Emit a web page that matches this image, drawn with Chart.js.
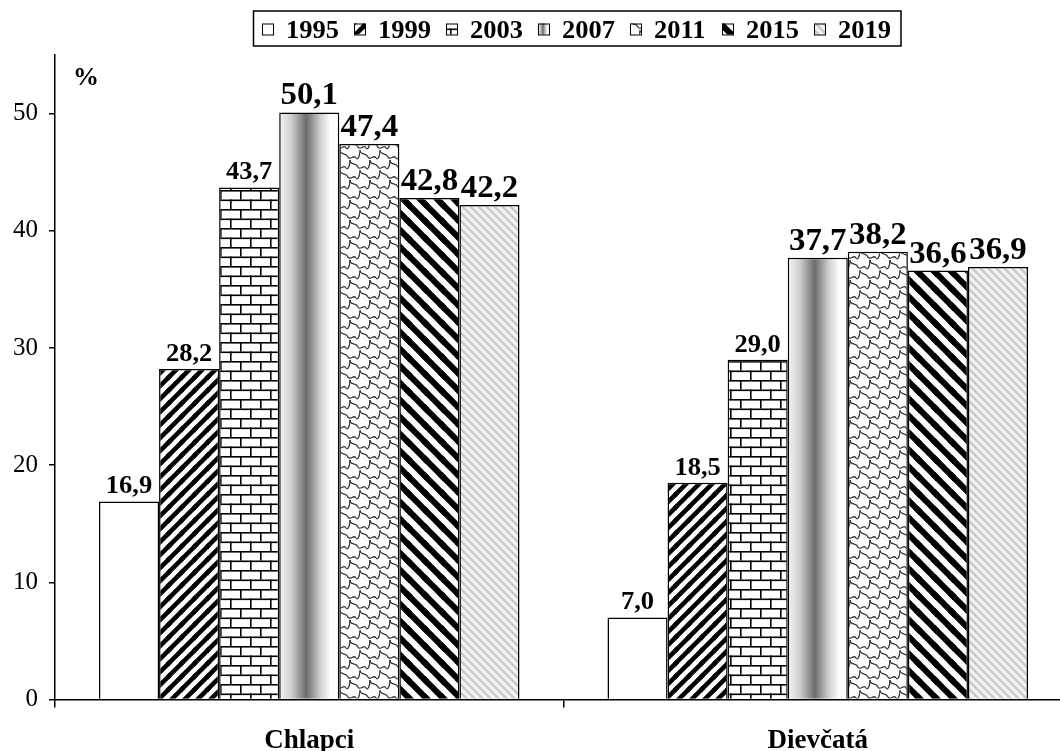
<!DOCTYPE html>
<html>
<head>
<meta charset="utf-8">
<script src="https://cdn.jsdelivr.net/npm/chart.js@4"></script>
<style>
  html, body { margin: 0; padding: 0; background: #fff; overflow: hidden; }
  #wrap { width: 1072px; height: 751px; }
</style>
</head>
<body>
<div id="wrap"><canvas id="chart" width="1072" height="751"></canvas></div>
<script>
// ===== data =====
const categories = ["Chlapci", "Dievčatá"];
const years = ["1995", "1999", "2003", "2007", "2011", "2015", "2019"];
const v1995 = [16.9, 7.0];
const v1999 = [28.2, 18.5];
const v2003 = [43.7, 29.0];
const v2007 = [50.1, 37.7];
const v2011 = [47.4, 38.2];
const v2015 = [42.8, 36.6];
const v2019 = [42.2, 36.9];
const yTicks = [0, 10, 20, 30, 40, 50];

const SERIF = "'Liberation Serif', 'Times New Roman', serif";

// small helper to build repeating fills
function makePattern(w, h, draw) {
  const c = document.createElement("canvas");
  c.width = w;
  c.height = h;
  const g = c.getContext("2d");
  draw(g, w, h);
  return g.createPattern(c, "repeat");
}

function stripes(size, width, color, bg, down) {
  return makePattern(size, size, (g, w) => {
    g.fillStyle = bg;
    g.fillRect(0, 0, w, w);
    g.strokeStyle = color;
    g.lineWidth = width;
    g.lineCap = "square";
    const segs = down
      ? [[0, 0, w, w], [-w, 0, 0, w], [0, -w, w, 0], [-w / 2, w / 2, w / 2, w * 1.5], [w / 2, -w / 2, w * 1.5, w / 2]]
      : [[0, w, w, 0], [-w, w, 0, 0], [0, w * 2, w, w], [-w / 2, w / 2, w / 2, -w / 2], [w / 2, w * 1.5, w * 1.5, w / 2]];
    segs.forEach(s => {
      g.beginPath();
      g.moveTo(s[0], s[1]);
      g.lineTo(s[2], s[3]);
      g.stroke();
    });
  });
}

const pWhite = "#ffffff";
const p1999 = stripes(13, 4.5, "#000", "#fff", false);
const p2003 = makePattern(20, 19, g => {
  g.fillStyle = "#fff";
  g.fillRect(0, 0, 20, 19);
  g.fillStyle = "#000";
  g.fillRect(0, 0, 20, 1.6);
  g.fillRect(0, 9.5, 20, 1.6);
  g.fillRect(0, 0, 1.6, 9.5);
  g.fillRect(10, 9.5, 1.6, 9.5);
});
// wavy scale pattern for 2011
const p2011 = makePattern(20, 20, g => {
  g.fillStyle = "#fff";
  g.fillRect(0, 0, 20, 20);
  g.strokeStyle = "#333";
  g.lineWidth = 1.3;
  [[0, 0], [20, 0], [10, 10], [0, 20], [20, 20]].forEach(c => {
    g.beginPath();
    g.moveTo(c[0] - 10, c[1]);
    g.bezierCurveTo(c[0] - 10, c[1] + 6, c[0] - 4, c[1] + 2, c[0] - 2, c[1] + 7);
    g.bezierCurveTo(c[0], c[1] + 11, c[0] + 4, c[1] + 4, c[0] + 6, c[1] + 8);
    g.bezierCurveTo(c[0] + 8, c[1] + 11, c[0] + 10, c[1] + 5, c[0] + 10, c[1]);
    g.stroke();
  });
});
const p2015 = stripes(17, 6, "#000", "#fff", true);
const p2019 = stripes(8, 2.2, "#c6c6c6", "#f2f2f2", true);

const fills = [pWhite, p1999, p2003, null, p2011, p2015, p2019];
const seriesValues = [v1995, v1999, v2003, v2007, v2011, v2015, v2019];

function cylinder(ctx, x0, x1) {
  const gr = ctx.createLinearGradient(x0, 0, x1, 0);
  gr.addColorStop(0, "#f4f4f4");
  gr.addColorStop(0.2, "#cfcfcf");
  gr.addColorStop(0.45, "#6c6c6c");
  gr.addColorStop(0.68, "#cdcdcd");
  gr.addColorStop(0.85, "#fdfdfd");
  gr.addColorStop(1, "#ffffff");
  return gr;
}

const datasets = seriesValues.map((vals, i) => ({
  label: years[i],
  data: vals,
  backgroundColor: i === 3 ? () => "#999" : fills[i],
  borderColor: "#000",
  borderWidth: 1.5,
  borderSkipped: "bottom"
}));

function fmt(v) {
  return v.toFixed(1).replace(".", ",");
}

// gradient for the 2007 bars, per bar
const cylinderPlugin = {
  id: "cylinder",
  beforeDatasetsDraw(chart) {
    const meta = chart.getDatasetMeta(3);
    meta.data.forEach(el => {
      el.options.backgroundColor = cylinder(chart.ctx, el.x - el.width / 2, el.x + el.width / 2);
    });
  }
};

// value labels, legend box and the % sign
const extrasPlugin = {
  id: "extras",
  afterDatasetsDraw(chart) {
    const ctx = chart.ctx;
    ctx.save();
    ctx.fillStyle = "#000";
    ctx.textAlign = "center";
    ctx.textBaseline = "alphabetic";
    chart.data.datasets.forEach((ds, di) => {
      const meta = chart.getDatasetMeta(di);
      const big = di >= 3;
      ctx.font = "bold " + (big ? 31 : 25) + "px " + SERIF;
      meta.data.forEach((el, i) => {
        ctx.save();
        ctx.translate(el.x, el.y - 8);
        ctx.scale(1.06, 1);
        ctx.fillText(fmt(ds.data[i]), 0, 0);
        ctx.restore();
      });
    });
    ctx.restore();
  },
  afterDraw(chart) {
    const ctx = chart.ctx;
    ctx.save();
    // legend frame
    ctx.strokeStyle = "#000";
    ctx.lineWidth = 1.5;
    ctx.strokeRect(253.5, 11, 647.5, 35);
    ctx.font = "bold 25px " + SERIF;
    ctx.textAlign = "left";
    ctx.textBaseline = "alphabetic";
    years.forEach((y, i) => {
      const bx = 262 + i * 92;
      const by = 23.5;
      ctx.fillStyle = i === 3 ? cylinder(ctx, bx, bx + 11) : fills[i];
      ctx.fillRect(bx, by, 11, 11);
      ctx.lineWidth = 1;
      ctx.strokeRect(bx + 0.5, by + 0.5, 11, 11);
      ctx.fillStyle = "#000";
      ctx.save();
      ctx.translate(bx + 24, 37.5);
      ctx.scale(1.06, 1);
      ctx.fillText(y, 0, 0);
      ctx.restore();
    });
    // unit
    ctx.font = "bold 26px " + SERIF;
    ctx.fillText("%", 73, 85);
    ctx.restore();
  }
};

const chart = new Chart(document.getElementById("chart"), {
  type: "bar",
  data: { labels: categories, datasets },
  options: {
    responsive: false,
    animation: false,
    events: [],
    layout: { padding: { top: 55, left: 0, right: 0, bottom: 0 } },
    plugins: {
      legend: { display: false },
      tooltip: { enabled: false }
    },
    datasets: {
      bar: { categoryPercentage: 0.827, barPercentage: 1 }
    },
    scales: {
      x: {
        offset: true,
        grid: {
          offset: true,
          drawOnChartArea: false,
          drawTicks: true,
          tickLength: 8,
          color: "#000",
          lineWidth: 1.5
        },
        border: { color: "#000", width: 1.5 },
        ticks: {
          color: "#000",
          padding: 17,
          font: { family: SERIF, size: 27, weight: "bold" }
        },
        afterFit: s => { s.height = 51.5; }
      },
      y: {
        min: 0,
        max: 55,
        grid: {
          drawOnChartArea: false,
          drawTicks: true,
          tickLength: 6,
          color: "#000",
          lineWidth: 1.5
        },
        border: { color: "#000", width: 1.5 },
        ticks: {
          color: "#000",
          padding: 11,
          font: { family: SERIF, size: 25 }
        },
        afterBuildTicks: s => { s.ticks = yTicks.map(v => ({ value: v })); },
        afterFit: s => { s.width = 55; }
      }
    }
  },
  plugins: [cylinderPlugin, extrasPlugin]
});
</script>
</body>
</html>
